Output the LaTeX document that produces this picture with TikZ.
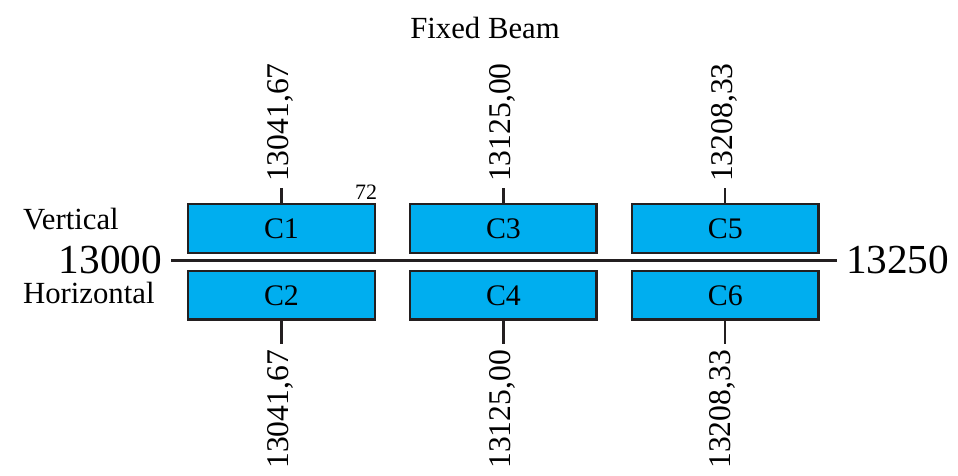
\documentclass[tikz,border=0pt]{standalone}
\usepackage{fontspec}
\setmainfont{Liberation Serif}
\usepackage{tikz}
\usetikzlibrary{positioning}
\definecolor{colfill}{RGB}{0,174,239}
\definecolor{ink}{RGB}{35,31,32}

\tikzset{
  col/.style={draw=ink,fill=colfill,line width=1.4pt,minimum width=3.73cm,minimum height=0.97cm,inner sep=0pt,font=\fontsize{17}{20}\selectfont},
  val/.style={rotate=90,inner sep=0.1cm,font=\fontsize{18}{20}\selectfont},
  lbl/.style={inner sep=0pt,font=\fontsize{17.5}{20}\selectfont},
  big/.style={inner xsep=0.16cm,inner ysep=0pt,font=\fontsize{23.5}{26}\selectfont},
}

\begin{document}
\begin{tikzpicture}[x=0.02cm,y=0.02cm,line width=1.2pt,draw=ink,node distance=4.44cm]
      \useasboundingbox (0,0) rectangle (958,476);
      \node[col] (c1) at (281.5,247.5) {C1};
      \node[col] (c3) [right of=c1] {C3};
      \node[col] (c5) [right of=c3] {C5};
      \node[col] (c2) [below of=c1,node distance=1.34cm] {C2};
      \node[col] (c4) [right of=c2] {C4};
      \node[col] (c6) [right of=c4] {C6};

      \node[big,anchor=base east] (lo) at (171,202) {13000};
      \node[big,anchor=base west] (hi) at (837,202) {13250};
      \draw (lo) -- (hi);

      \node[lbl,anchor=base] (title) at (485,437) {Fixed Beam};
      \node[lbl,anchor=base west] (vert) at (22,246) {Vertical};
      \node[lbl,anchor=base west] (hor) at (22,172) {Horizontal};
      \node[inner sep=0pt,anchor=base,font=\fontsize{12.5}{14}\selectfont] (n72) at (366,276) {72};

      \node[val,anchor=west] (t1) at (280,288) {13041,67};
      \node[val,anchor=west] (t3) at (502,288) {13125,00};
      \node[val,anchor=west] (t5) at (724,288) {13208,33};
      \node[val,anchor=east] (b2) at (280,132) {13041,67};
      \node[val,anchor=east] (b4) at (502,132) {13125,00};
      \node[val,anchor=east] (b6) at (722,132) {13208,33};

      \draw (c1.north) -- (c1.north |- t1.west);
      \draw (c3.north) -- (c3.north |- t3.west);
      \draw (c5.north) -- (c5.north |- t5.west);
      \draw (c2.south) -- (c2.south |- b2.east);
      \draw (c4.south) -- (c4.south |- b4.east);
      \draw (c6.south) -- (c6.south |- b6.east);
\end{tikzpicture}
\end{document}
